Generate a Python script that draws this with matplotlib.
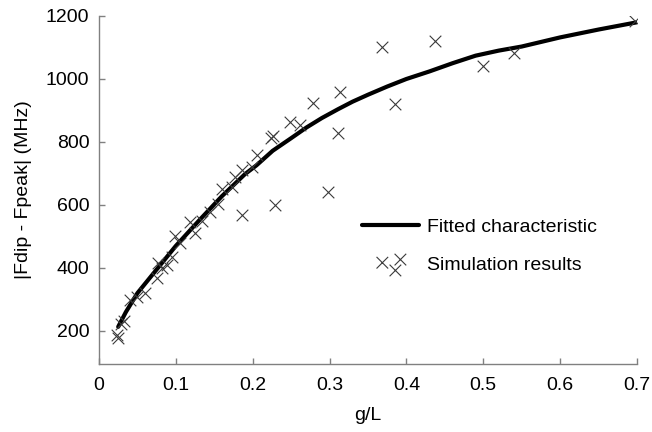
import numpy as np
import matplotlib
matplotlib.use("Agg")
import matplotlib.pyplot as plt
from matplotlib.legend_handler import HandlerPathCollection

plt.rcParams['font.family'] = ['Liberation Sans', 'DejaVu Sans']

# Simulated |Fdip - Fpeak| values versus normalised gap g/L
sim_gl = [0.023, 0.025, 0.029, 0.033, 0.040, 0.049, 0.060, 0.075, 0.077, 0.082,
          0.088, 0.095, 0.099, 0.105, 0.118, 0.125, 0.134, 0.144, 0.155, 0.160,
          0.173, 0.177, 0.186, 0.186, 0.199, 0.205, 0.224, 0.227, 0.229, 0.248,
          0.262, 0.278, 0.298, 0.311, 0.314, 0.368, 0.385, 0.437, 0.500, 0.540,
          0.697]
sim_df = [187, 178, 222, 232, 298, 308, 320, 368, 416, 400,
          410, 435, 500, 479, 546, 511, 550, 578, 604, 652,
          657, 689, 711, 567, 721, 759, 812, 820, 599, 862,
          854, 924, 641, 830, 960, 1100, 920, 1120, 1040, 1082,
          1184]

# Fitted characteristic
fit_gl = [0.025, 0.035, 0.05, 0.075, 0.10, 0.13, 0.16, 0.19, 0.205, 0.226,
          0.25, 0.27, 0.29, 0.311, 0.33, 0.35, 0.375, 0.40, 0.43, 0.46,
          0.49, 0.52, 0.55, 0.60, 0.65, 0.70]
fit_df = [213, 260, 320, 395, 470, 550, 628, 698, 726, 772,
          812, 846, 876, 904, 928, 950, 976, 1000, 1024, 1050,
          1074, 1090, 1103, 1132, 1157, 1180]

xticks = [0, 0.1, 0.2, 0.3, 0.4, 0.5, 0.6, 0.7]
xticklabels = ["0", "0.1", "0.2", "0.3", "0.4", "0.5", "0.6", "0.7"]
yticks = [200, 400, 600, 800, 1000, 1200]


class ClusterHandler(HandlerPathCollection):
    """Draws the scatter legend key as a tight cluster of three markers."""
    def get_xdata(self, legend, xdescent, ydescent, width, height, fontsize):
        xd = -xdescent + np.array([14.4, 23.8, 27.4])
        return xd, xd


fig = plt.figure(figsize=(6.52, 4.32), dpi=100)
ax = fig.add_axes([0.1518, 0.1574, 0.8252, 0.8056])

ax.plot(fit_gl, fit_df, color='black', lw=3.0, solid_capstyle='round',
        label='Fitted characteristic', zorder=3)
sc = ax.scatter(sim_gl, sim_df, marker='x', s=70, color='#3a3a3a',
                linewidths=0.8, label='Simulation results', zorder=4)

ax.set_xlim(0, 0.7)
ax.set_ylim(95, 1200)
ax.set_xticks(xticks)
ax.set_xticklabels(xticklabels)
ax.set_yticks(yticks)

for s in ('top', 'right'):
    ax.spines[s].set_visible(False)
for s in ('left', 'bottom'):
    ax.spines[s].set_color('#808080')
    ax.spines[s].set_linewidth(1.0)

ax.tick_params(direction='in', length=4, width=1.0, color='#808080',
               labelsize=14, labelcolor='black')
ax.tick_params(axis='x', pad=9)
ax.tick_params(axis='y', pad=7)

ax.set_xlabel('g/L', fontsize=14, labelpad=10)
ax.set_ylabel('|Fdip - Fpeak| (MHz)', fontsize=14, labelpad=10)

leg = ax.legend(handles=[ax.lines[0], sc], loc='upper left',
                bbox_to_anchor=(0.457, 0.468), frameon=False, fontsize=14,
                handlelength=2.9, handletextpad=0.45, labelspacing=1.06,
                handler_map={sc: ClusterHandler(numpoints=3,
                                                yoffsets=[0.57, 0.0, 0.8])})

fig.savefig('out.png', dpi=100)
